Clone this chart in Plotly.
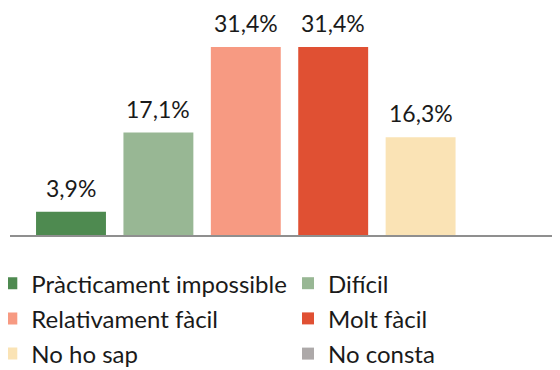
import plotly.graph_objects as go

categories = ["Pràcticament impossible", "Difícil", "Relativament fàcil",
              "Molt fàcil", "No ho sap", "No consta"]
values = [3.9, 17.1, 31.4, 31.4, 16.3, 0]
labels = ["3,9%", "17,1%", "31,4%", "31,4%", "16,3%", ""]
colors = ["#4E8A50", "#98B794", "#F79A82", "#E05033", "#FAE3B5", "#ADA9A9"]
# which of the two legend columns each category goes to
legend_cols = ["legend", "legend2", "legend", "legend2", "legend", "legend2"]

FONT = "Lato"

fig = go.Figure()
for i, (cat, v) in enumerate(zip(categories, values)):
    fig.add_trace(go.Bar(
        x=[i], y=[v], name=cat, width=0.8,
        marker=dict(color=colors[i], line=dict(width=0)),
        legend=legend_cols[i], legendgroup=cat,
        hoverinfo="skip"))
    if labels[i]:
        fig.add_annotation(x=i, y=v, text=labels[i], showarrow=False,
                           yanchor="bottom", yshift=8,
                           font=dict(family=FONT, size=23, color="#1a1a1a"))

leg_style = dict(orientation="v", yanchor="top", y=-0.116, xanchor="left",
                 tracegroupgap=1, bgcolor="rgba(0,0,0,0)",
                 font=dict(family=FONT, size=24, color="#1a1a1a"))

# page has an 8px body margin, so margins are shifted to compensate
fig.update_layout(
    width=560, height=370,
    margin=dict(l=2, r=8, t=2, b=143, autoexpand=False),
    paper_bgcolor="white", plot_bgcolor="white",
    barmode="overlay", showlegend=True,
    legend=dict(x=-0.034, **leg_style),
    legend2=dict(x=0.5055, **leg_style),
    xaxis=dict(range=[-0.698, 5.595], showticklabels=False, showgrid=False,
               zeroline=False, showline=True, linecolor="#8f8f8f",
               linewidth=2, ticks=""),
    yaxis=dict(range=[0, 37.56], visible=False),
)

fig.write_html("out.html")
